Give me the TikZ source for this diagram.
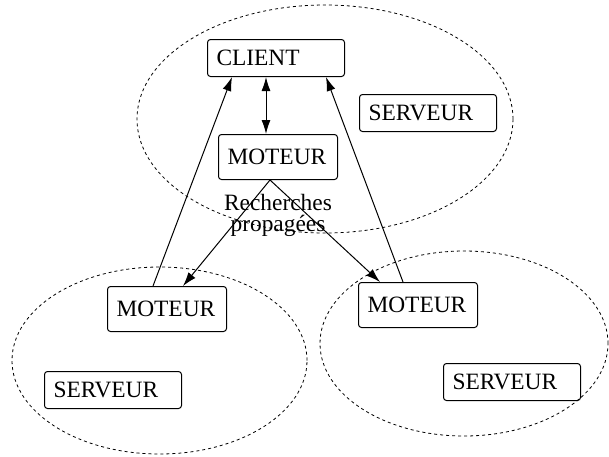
\documentclass[tikz,border=0pt]{standalone}
\usepackage{fontspec}
\setmainfont{Liberation Serif}
\usepackage{tikz}
\usetikzlibrary{positioning, arrows.meta}

\begin{document}
\begin{tikzpicture}[
            x=0.5pt, y=-0.5pt,
            >={Latex[length=7pt, width=4.5pt]},
            boite/.style={draw, line width=0.5pt, rounded corners=1.5pt, anchor=north west, align=left,
                          inner xsep=4.5pt, inner ysep=0pt, font=\fontsize{11.7}{14}\selectfont},
            serveur/.style={boite, text width=59.5pt, minimum height=18.5pt},
            moteur/.style={boite, text width=50.5pt, minimum height=22.5pt},
            zone/.style={draw, line width=0.4pt, dash pattern=on 1.5pt off 1.5pt},
            fleche/.style={->, line width=0.5pt}
        ]
            \useasboundingbox (0,0) rectangle (609,456);

            % les trois serveurs
            \draw[zone] (325,119) ellipse [x radius=94pt, y radius=57pt];
            \draw[zone] (159.5,360.5) ellipse [x radius=73.75pt, y radius=46.75pt];
            \draw[zone] (464,343.5) ellipse [x radius=72pt, y radius=46.25pt];

            \node[serveur] (client) at (207,39) {CLIENT};
            \node[serveur] (srvh) at (359,94) {SERVEUR};
            \node[moteur] (mh) at (218,134) {MOTEUR};
            \node[below=7pt of mh, inner sep=0pt, align=center,
                  font=\fontsize{11.7}{10.5}\selectfont] (rech) {Recherches\\propagées};

            \node[moteur] (mbg) at (107,286) {MOTEUR};
            \node[serveur] (srvg) at (44,371) {SERVEUR};

            \node[moteur] (mbd) at (358,282) {MOTEUR};
            \node[serveur] (srvd) at (443,363) {SERVEUR};

            \draw[fleche, <->] ([xshift=29.5pt]client.south west) -- ([xshift=24pt]mh.north west);
            \draw[fleche] ([xshift=23pt]mbg.north west) -- ([xshift=12.5pt]client.south west);
            \draw[fleche] ([xshift=22.5pt]mbd.north west) -- ([xshift=-9.5pt]client.south east);
            \draw[fleche] ([xshift=26pt]mh.south west) -- ([xshift=38pt]mbg.north west);
            \draw[fleche] ([xshift=26pt]mh.south west) -- ([xshift=11pt]mbd.north west);
        \end{tikzpicture}
\end{document}
